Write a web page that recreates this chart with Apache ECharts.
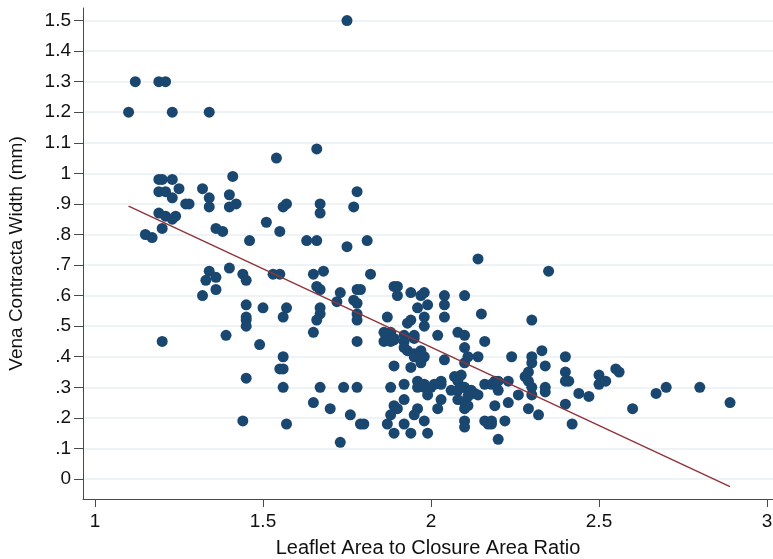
<!DOCTYPE html>
<html>
<head>
<meta charset="utf-8">
<script src="https://cdn.jsdelivr.net/npm/echarts@6/dist/echarts.min.js"></script>
<style>
  html, body { margin: 0; padding: 0; background: #fff; }
  #chart { width: 773px; height: 559px; }
</style>
</head>
<body>
<div id="chart"></div>
<script>
// leaflet area / closure area ratio (x) and vena contracta width in mm (y)
const leafletRatio = [
  1.12, 1.19, 1.21, 1.10, 1.23, 1.34, 1.75, 1.54, 1.66, 1.41,
  1.19, 1.20, 1.23, 1.19, 1.21, 1.25, 1.32, 1.78, 1.40, 1.23,
  1.34, 1.34, 1.40, 1.42, 1.27, 1.28, 1.56, 1.57, 1.67, 1.67,
  1.77, 1.19, 1.21, 1.23, 1.24, 1.20, 1.15, 1.17, 1.36, 1.38,
  1.46, 1.51, 1.55, 1.63, 1.66, 1.75, 1.81, 1.34, 1.33, 1.36,
  1.36, 1.32, 1.40, 1.44, 1.45, 1.53, 1.55, 1.65, 1.68, 1.82,
  1.66, 1.67, 1.73, 1.72, 1.77, 1.78, 1.78, 1.79, 1.45, 1.50,
  1.57, 1.56, 1.67, 1.67, 1.66, 1.45, 1.45, 1.45, 1.78, 1.78,
  1.39, 1.49, 1.65, 1.20, 1.78, 1.56, 1.55, 1.56, 1.45, 1.56,
  1.67, 1.65, 1.70, 1.44, 1.57, 1.74, 1.78, 1.76, 1.79, 1.80,
  1.73,
  1.89, 1.90, 1.90, 1.94, 1.97, 1.98, 1.96, 1.99, 2.04, 2.04,
  2.04, 2.10, 2.14, 2.35, 2.15, 1.87, 1.94, 1.98, 1.98, 1.93,
  2.30, 1.86, 1.88, 1.86, 1.88, 1.89, 1.88, 1.89, 1.92, 1.92,
  1.95, 1.95, 1.92, 1.93, 1.95, 1.95, 1.98, 1.97, 1.97, 2.02,
  2.08, 2.10, 2.10, 2.16, 2.04, 2.11, 2.10, 2.14, 1.89, 1.94,
  2.24, 2.30, 2.30, 2.33, 2.34, 2.40, 2.40, 1.88, 1.92, 1.89,
  1.90, 1.88, 1.87, 1.92, 1.92, 1.89, 1.94, 1.95, 1.96, 1.98,
  1.99, 1.96, 1.98, 1.96, 1.98, 1.99, 2.00, 2.01, 2.03, 2.03,
  2.02, 2.03, 2.06, 2.08, 2.07, 2.09, 2.08, 2.10, 2.11, 2.11,
  2.10, 2.08, 2.10, 2.11, 2.13, 2.12, 2.14, 2.10, 2.10, 2.16,
  2.18, 2.19, 2.20, 2.23, 2.16, 2.17, 2.18, 2.18, 2.20, 2.19,
  2.20, 2.22, 2.23, 2.26, 2.28, 2.29, 2.29, 2.30, 2.30, 2.29,
  2.34, 2.34, 2.32, 2.40, 2.41, 2.40, 2.42, 2.44, 2.47, 2.50,
  2.50, 2.52, 2.55, 2.56, 2.60, 2.67, 2.70, 2.80, 2.89
]
const venaWidth = [
  1.30, 1.30, 1.30, 1.20, 1.20, 1.20, 1.50, 1.05, 1.08, 0.99,
  0.98, 0.98, 0.98, 0.94, 0.94, 0.95, 0.95, 0.94, 0.93, 0.92,
  0.92, 0.89, 0.89, 0.90, 0.90, 0.90, 0.89, 0.90, 0.90, 0.87,
  0.89, 0.87, 0.86, 0.85, 0.86, 0.82, 0.80, 0.79, 0.82, 0.81,
  0.78, 0.84, 0.81, 0.78, 0.78, 0.76, 0.78, 0.68, 0.65, 0.66,
  0.62, 0.60, 0.69, 0.67, 0.65, 0.67, 0.67, 0.67, 0.68, 0.67,
  0.63, 0.62, 0.61, 0.58, 0.585, 0.575, 0.62, 0.62, 0.57, 0.56,
  0.56, 0.53, 0.56, 0.54, 0.52, 0.53, 0.52, 0.50, 0.54, 0.52,
  0.47, 0.44, 0.48, 0.45, 0.45, 0.40, 0.36, 0.36, 0.33, 0.30,
  0.30, 0.25, 0.23, 0.19, 0.18, 0.30, 0.30, 0.21, 0.18, 0.18,
  0.12,
  0.63, 0.63, 0.60, 0.61, 0.60, 0.61, 0.56, 0.57, 0.60, 0.57,
  0.53, 0.60, 0.72, 0.68, 0.54, 0.53, 0.52, 0.53, 0.50, 0.51,
  0.52, 0.48, 0.48, 0.45, 0.45, 0.455, 0.47, 0.46, 0.47, 0.45,
  0.47, 0.46, 0.43, 0.42, 0.41, 0.40, 0.40, 0.38, 0.42, 0.47,
  0.48, 0.47, 0.43, 0.45, 0.39, 0.40, 0.38, 0.40, 0.37, 0.365,
  0.40, 0.40, 0.38, 0.42, 0.37, 0.40, 0.35, 0.30, 0.31, 0.24,
  0.23, 0.21, 0.18, 0.26, 0.18, 0.15, 0.15, 0.21, 0.23, 0.19,
  0.15, 0.32, 0.31, 0.30, 0.30, 0.275, 0.30, 0.31, 0.32, 0.31,
  0.23, 0.26, 0.29, 0.29, 0.335, 0.34, 0.32, 0.30, 0.29, 0.27,
  0.25, 0.26, 0.23, 0.24, 0.28, 0.29, 0.275, 0.19, 0.17, 0.31,
  0.31, 0.32, 0.32, 0.32, 0.19, 0.18, 0.19, 0.18, 0.29, 0.24,
  0.13, 0.19, 0.25, 0.275, 0.335, 0.35, 0.32, 0.30, 0.275, 0.23,
  0.30, 0.285, 0.21, 0.32, 0.32, 0.245, 0.18, 0.28, 0.27, 0.34,
  0.31, 0.32, 0.36, 0.35, 0.23, 0.28, 0.30, 0.30, 0.25
]

// fitted line end points
const fitX = [1.1, 2.89]
const fitY = [0.893, -0.025]

// tick values
const xTicks = [1, 1.5, 2, 2.5, 3]
const yTicks = [0, 0.1, 0.2, 0.3, 0.4, 0.5, 0.6, 0.7, 0.8, 0.9, 1, 1.1, 1.2, 1.3, 1.4, 1.5]

const chart = echarts.init(document.getElementById('chart'), null, { renderer: 'canvas' })

const points = leafletRatio.map((x, i) => [x, venaWidth[i]])
const fitLine = fitX.map((x, i) => [x, fitY[i]])

// stata style labels: .1 .2 ... 1 1.1
const yLabel = (v) => {
  const r = Math.round(v * 10) / 10
  if (r > 0 && r < 1) return '.' + Math.round(r * 10)
  return String(r)
}

const axisColor = '#4a4a4a'
const textFont = { fontFamily: 'Liberation Sans, Arial, sans-serif', fontSize: 19, color: '#111' }

const option = {
  backgroundColor: '#fff',
  animation: false,
  grid: {
    left: 83,
    right: 0,
    top: 8,
    bottom: 60,
    containLabel: false,
    outerBoundsMode: 'none'
  },
  xAxis: {
    type: 'value',
    min: 0.9643,
    max: 3.0179,
    name: 'Leaflet Area to Closure Area Ratio',
    nameLocation: 'middle',
    nameGap: 39,
    nameTextStyle: { ...textFont, fontSize: 20 },
    axisLine: { show: true, onZero: false, lineStyle: { color: axisColor, width: 1 } },
    axisTick: { show: true, length: 8, customValues: xTicks, lineStyle: { color: axisColor } },
    axisLabel: { customValues: xTicks, margin: 13, ...textFont, formatter: (v) => String(v) },
    splitLine: { show: false }
  },
  yAxis: {
    type: 'value',
    min: -0.0654,
    max: 1.541,
    name: 'Vena Contracta Width (mm)',
    nameLocation: 'middle',
    nameGap: 57,
    nameRotate: 90,
    nameTextStyle: textFont,
    axisLine: { show: true, onZero: false, lineStyle: { color: axisColor, width: 1 } },
    axisTick: { show: true, length: 9, customValues: yTicks, lineStyle: { color: axisColor } },
    axisLabel: { customValues: yTicks, margin: 12, ...textFont, formatter: yLabel },
    splitLine: { show: true, lineStyle: { color: '#e8f0f3', width: 1.5 } }
  },
  series: [
    {
      type: 'scatter',
      data: points,
      symbol: 'circle',
      symbolSize: 11,
      itemStyle: { color: '#1a476f', opacity: 1 },
      z: 3
    },
    {
      type: 'line',
      data: fitLine,
      showSymbol: false,
      symbol: 'none',
      lineStyle: { color: '#90353b', width: 1.5 },
      z: 4
    }
  ]
}

chart.setOption(option)
</script>
</body>
</html>
